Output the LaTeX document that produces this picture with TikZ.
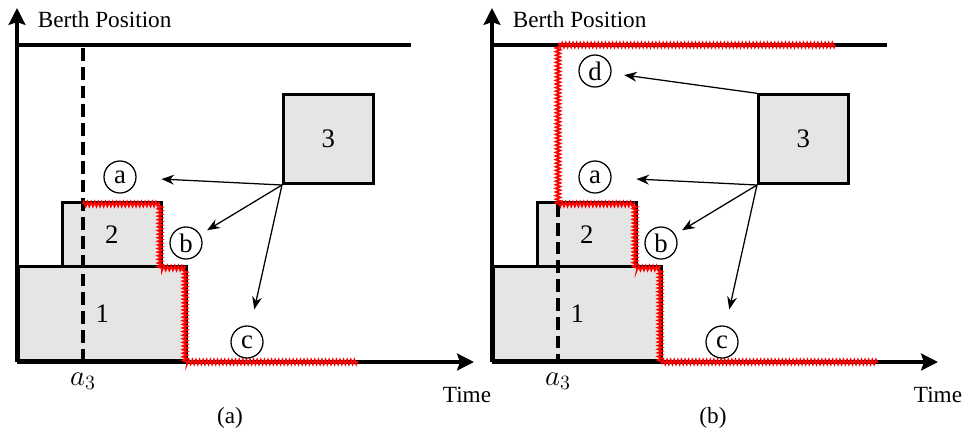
\documentclass[tikz,border=0pt]{standalone}
\usepackage{fontspec}
\setmainfont{Liberation Serif}
\usetikzlibrary{positioning}
\usetikzlibrary{arrows.meta}
\usetikzlibrary{decorations.pathmorphing}

\tikzset{
  axis/.style={line width=2.2pt, -{Stealth[length=12pt,width=12pt,inset=2pt]}},
  quay/.style={line width=2.2pt},
  berth/.style={draw, line width=1.9pt, fill=black!10, inner sep=0pt, anchor=south west,
    font=\fontsize{19}{22}\selectfont},
  choice/.style={draw, circle, line width=0.9pt, minimum size=0.8cm, inner sep=0pt,
    font=\fontsize{19}{22}\selectfont},
  pick/.style={line width=0.9pt, -{Stealth[length=9pt,width=7pt]}},
  arrival/.style={line width=2.4pt, dash pattern=on 0.32cm off 0.15cm},
  free/.style={red, line width=1.3pt, decorate,
    decoration={zigzag, amplitude=0.055cm, segment length=0.09cm}},
}

\begin{document}
\begin{tikzpicture}[x=0.025cm, y=-0.025cm, font=\fontsize{16.5}{19}\selectfont]
\useasboundingbox (0,0) rectangle (963,437);

% ---- (a) ----
\coordinate (oa) at (17,362);
\draw[axis] (oa) -- (17,8);
\draw[axis] (oa) -- (474,362);
\draw[quay] (17,45) -- (411,45);
\node[anchor=west] (ya) at (33,20) {Berth Position};
\node (xa) at (467,395) {Time};

\node[berth, minimum width=4.2cm, minimum height=2.35cm] (a1) at (oa) {1};
\node[berth, minimum width=2.475cm, minimum height=1.6cm] (a2) at (61,268) {2};
\node[berth, minimum width=2.25cm, minimum height=2.225cm] (a3) at (282,185) {3};

\draw[arrival] (83,48) -- (83,362);
\node[font=\fontsize{20}{22}\selectfont] (ta) at (83,381) {$a_3$};

% free stretch of the quay
\draw[free] (83,204) -- (160,204) -- (160,268) -- (185,268) -- (185,362) -- (358,362);

\node[choice] (aa) at (120,177) {a};
\node[choice] (ab) at (186,243) {b};
\node[choice] (ac) at (247,342) {c};
\draw[pick, shorten >=0.62cm] (a3.south west) -- (aa);
\draw[pick, shorten >=0.2cm] (a3.south west) -- (ab);
\draw[pick, shorten >=0.42cm] (a3.south west) -- (ac);

\node (capa) at (230,418) {(a)};

% ---- (b) ----
\coordinate (ob) at (492,362);
\draw[axis] (ob) -- (492,8);
\draw[axis] (ob) -- (938,362);
\draw[quay] (492,45) -- (887,45);
\node[anchor=west] (yb) at (508,20) {Berth Position};
\node (xb) at (938,395) {Time};

\node[berth, minimum width=4.2cm, minimum height=2.35cm] (b1) at (ob) {1};
\node[berth, minimum width=2.475cm, minimum height=1.6cm] (b2) at (536,268) {2};
\node[berth, minimum width=2.25cm, minimum height=2.225cm] (b3) at (757,185) {3};

\draw[arrival] (558,204) -- (558,362);
\node[font=\fontsize{20}{22}\selectfont] (tb) at (558,381) {$a_3$};

% free stretch of the quay
\draw[free] (835,45) -- (558,45) -- (558,204) -- (635,204) -- (635,268) -- (660,268)
  -- (660,362) -- (878,362);

\node[choice] (bd) at (595,71) {d};
\node[choice] (ba) at (595,177) {a};
\node[choice] (bb) at (661,243) {b};
\node[choice] (bc) at (722,342) {c};
\draw[pick, shorten >=0.32cm] (b3.north west) -- (bd);
\draw[pick, shorten >=0.62cm] (b3.south west) -- (ba);
\draw[pick, shorten >=0.2cm] (b3.south west) -- (bb);
\draw[pick, shorten >=0.42cm] (b3.south west) -- (bc);

\node (capb) at (713,418) {(b)};

\end{tikzpicture}
\end{document}
